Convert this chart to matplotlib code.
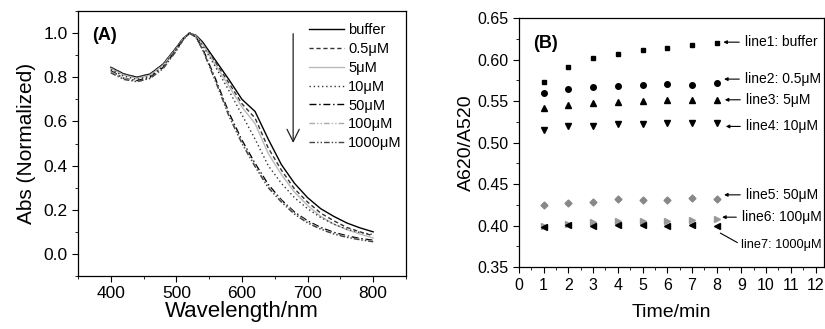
import matplotlib
matplotlib.use('Agg')
import matplotlib.pyplot as plt
from matplotlib.ticker import MultipleLocator

plt.rcParams['font.family'] = ['Liberation Sans', 'DejaVu Sans']

# panel A: normalized spectra
wl = [400, 420, 440, 460, 480, 500, 510, 520, 530, 540, 560, 580, 600, 620, 640, 660, 680, 700, 720, 740, 760, 780, 800]
buffer = [0.845, 0.815, 0.800, 0.815, 0.860, 0.935, 0.975, 1.000, 0.990, 0.960, 0.875, 0.790, 0.700, 0.645, 0.520, 0.405, 0.320, 0.255, 0.205, 0.170, 0.140, 0.118, 0.100]
c05 = [0.845, 0.815, 0.800, 0.815, 0.860, 0.935, 0.975, 1.000, 0.988, 0.955, 0.865, 0.775, 0.680, 0.615, 0.480, 0.380, 0.295, 0.235, 0.185, 0.150, 0.120, 0.100, 0.082]
c5 = [0.840, 0.810, 0.795, 0.810, 0.855, 0.930, 0.972, 1.000, 0.987, 0.950, 0.855, 0.760, 0.665, 0.590, 0.455, 0.360, 0.280, 0.220, 0.170, 0.135, 0.110, 0.090, 0.072]
c10 = [0.835, 0.805, 0.790, 0.805, 0.850, 0.930, 0.972, 1.000, 0.986, 0.945, 0.845, 0.740, 0.630, 0.520, 0.400, 0.320, 0.255, 0.205, 0.165, 0.135, 0.112, 0.097, 0.088]
c50 = [0.830, 0.795, 0.785, 0.800, 0.845, 0.925, 0.970, 1.000, 0.982, 0.930, 0.790, 0.640, 0.515, 0.410, 0.315, 0.245, 0.190, 0.150, 0.120, 0.098, 0.082, 0.070, 0.062]
c100 = [0.825, 0.795, 0.780, 0.795, 0.840, 0.920, 0.968, 1.000, 0.980, 0.925, 0.780, 0.630, 0.505, 0.400, 0.305, 0.240, 0.185, 0.145, 0.115, 0.093, 0.078, 0.066, 0.058]
c1000 = [0.820, 0.790, 0.780, 0.795, 0.840, 0.920, 0.968, 1.000, 0.980, 0.925, 0.780, 0.625, 0.500, 0.395, 0.300, 0.235, 0.180, 0.140, 0.112, 0.090, 0.075, 0.064, 0.055]
labels_a = ['buffer', '0.5μM', '5μM', '10μM', '50μM', '100μM', '1000μM']

# panel B: A620/A520 ratio over time
t = [1, 2, 3, 4, 5, 6, 7, 8]
line1 = [0.5725, 0.5906, 0.6018, 0.6066, 0.6115, 0.6139, 0.6171, 0.6200]
line2 = [0.5600, 0.5649, 0.5669, 0.5685, 0.5690, 0.5705, 0.5700, 0.5713]
line3 = [0.5412, 0.5448, 0.5472, 0.5488, 0.5496, 0.5512, 0.5510, 0.5516]
line4 = [0.5155, 0.5195, 0.5203, 0.5219, 0.5220, 0.5235, 0.5235, 0.5235]
line5 = [0.4250, 0.4275, 0.4290, 0.4319, 0.4310, 0.4310, 0.4331, 0.4323]
line6 = [0.3990, 0.4020, 0.4046, 0.4050, 0.4058, 0.4060, 0.4070, 0.4078]
line7 = [0.3980, 0.4002, 0.3998, 0.4010, 0.4010, 0.4000, 0.4010, 0.4000]
labels_b = ['line1: buffer', 'line2: 0.5μM', 'line3: 5μM', 'line4: 10μM',
            'line5: 50μM', 'line6: 100μM', 'line7: 1000μM']

fig = plt.figure(figsize=(8.25, 3.29), dpi=100)

# ---- (A)
ax1 = fig.add_axes([0.0945, 0.161, 0.3976, 0.8055])
styles = [
    dict(color='black', ls='-', lw=1.0),
    dict(color='#333333', ls=(0, (3, 2)), lw=1.0),
    dict(color='#bbbbbb', ls='-', lw=1.0),
    dict(color='#333333', ls=(0, (1, 2)), lw=1.0),
    dict(color='black', ls=(0, (5, 2, 1, 2)), lw=1.0),
    dict(color='#aaaaaa', ls=(0, (4, 1.5, 1, 1.5, 1, 1.5)), lw=1.0),
    dict(color='#444444', ls=(0, (4, 1.5, 1, 1.5, 1, 1.5)), lw=1.0),
]
for ys, lab, st in zip([buffer, c05, c5, c10, c50, c100, c1000], labels_a, styles):
    ax1.plot(wl, ys, label=lab, **st)

ax1.set_xlim(350, 850)
ax1.set_ylim(-0.1, 1.1)
ax1.xaxis.set_major_locator(MultipleLocator(100))
ax1.xaxis.set_minor_locator(MultipleLocator(50))
ax1.yaxis.set_major_locator(MultipleLocator(0.2))
ax1.yaxis.set_minor_locator(MultipleLocator(0.1))
ax1.set_xticks([400, 500, 600, 700, 800])
ax1.tick_params(which='major', direction='out', length=4, labelsize=12.5)
ax1.tick_params(which='minor', direction='out', length=2)
ax1.set_xlabel('Wavelength/nm', fontsize=16, labelpad=0)
ax1.set_ylabel('Abs (Normalized)', fontsize=15, labelpad=5)
ax1.text(372, 0.99, '(A)', fontsize=13, fontweight='bold', va='center')
ax1.legend(loc='upper right', frameon=False, fontsize=10.5, handlelength=2.4,
           handletextpad=0.3, labelspacing=0.33, borderaxespad=0, borderpad=0.3,
           bbox_to_anchor=(1.0, 0.97))
ax1.annotate('', xy=(678, 0.49), xytext=(678, 1.01),
             arrowprops=dict(arrowstyle='->', lw=0.9, color='#222222', mutation_scale=22))
for s in ax1.spines.values():
    s.set_linewidth(0.9)

# ---- (B)
ax2 = fig.add_axes([0.629, 0.188, 0.370, 0.757])
mk = [('s', 'black', 3.5), ('o', 'black', 4), ('^', 'black', 4.5), ('v', 'black', 4.5),
      ('D', '#888888', 3.5), ('>', '#999999', 4.5), ('<', 'black', 4.5)]
series_b = [line1, line2, line3, line4, line5, line6, line7]
for ys, (m, c, s) in zip(series_b, mk):
    ax2.plot(t, ys, ls='none', marker=m, color=c, ms=s)

ax2.set_xlim(0, 12.35)
ax2.set_ylim(0.35, 0.65)
ax2.xaxis.set_major_locator(MultipleLocator(1))
ax2.xaxis.set_minor_locator(MultipleLocator(0.5))
ax2.yaxis.set_major_locator(MultipleLocator(0.05))
ax2.yaxis.set_minor_locator(MultipleLocator(0.025))
ax2.tick_params(which='major', direction='out', length=4, labelsize=11.5)
ax2.tick_params(which='minor', direction='out', length=2)
ax2.set_xlabel('Time/min', fontsize=14, labelpad=8)
ax2.set_ylabel('A620/A520', fontsize=14, labelpad=2)
ax2.text(0.57, 0.62, '(B)', fontsize=13, fontweight='bold', va='center')

text_xy = [(9.14, 0.621), (9.14, 0.5765), (9.18, 0.5516), (9.18, 0.5195),
           (9.18, 0.4371), (9.02, 0.4102), (9.0, 0.3769)]
head_x = [8.27, 8.30, 8.33, 8.37, 8.30, 8.22, 8.15]
for i, (lab, (tx, ty), hx) in enumerate(zip(labels_b, text_xy, head_x)):
    fs = 9.2 if i == 6 else 10
    if i < 6:
        ax2.annotate(lab, xy=(hx, ty), xytext=(tx, ty), fontsize=fs, va='center',
                     arrowprops=dict(arrowstyle='-|>', lw=0.8, color='black',
                                     mutation_scale=5, shrinkA=2, shrinkB=0))
    else:
        ax2.annotate(lab, xy=(hx, 0.391), xytext=(tx, ty), fontsize=fs, va='center',
                     arrowprops=dict(arrowstyle='-', lw=0.8, color='black',
                                     shrinkA=1, shrinkB=0, relpos=(0, 0.5)))
for s in ax2.spines.values():
    s.set_linewidth(0.9)

fig.savefig('out.png', dpi=100)
